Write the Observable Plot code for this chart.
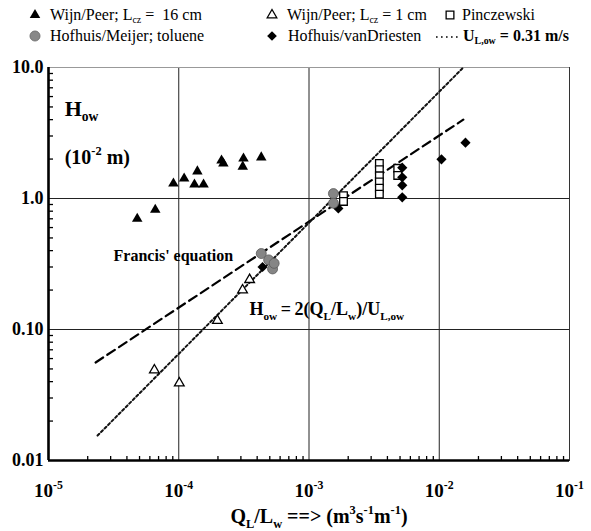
<!DOCTYPE html>
<html><head><meta charset="utf-8">
<script src="https://cdn.jsdelivr.net/npm/d3@7"></script>
<script src="https://cdn.jsdelivr.net/npm/@observablehq/plot@0.6"></script>
<style>
body{margin:0;background:#fff;}
#wrap{width:591px;background:#fff;}
#legend{position:relative;width:591px;height:50px;font-family:"Liberation Serif","Times New Roman","DejaVu Serif",serif;font-size:16px;color:#000;}
.item{position:absolute;white-space:nowrap;line-height:20px;}
.mk{position:absolute;}
#legend sub{font-size:62%;vertical-align:-0.3em;line-height:0;}
#chart svg{display:block;}
</style></head><body>
<div id="wrap"><div id="legend"></div><div id="chart"></div></div>
<script>
// ---- data ----
const wijn16X = [4.8e-5, 6.6e-5, 9.1e-5, 1.1e-4, 1.39e-4, 1.32e-4, 1.55e-4, 2.13e-4, 2.2e-4, 3.14e-4, 3.1e-4, 4.3e-4];
const wijn16Y = [0.70, 0.82, 1.30, 1.42, 1.61, 1.28, 1.28, 1.95, 1.85, 2.02, 1.75, 2.06];

const wijn1X = [6.5e-5, 1.01e-4, 1.98e-4, 3.09e-4, 3.5e-4];
const wijn1Y = [0.049, 0.039, 0.117, 0.20, 0.24];

const pinczX = [1.84e-3, 1.84e-3, 3.47e-3, 3.47e-3, 3.47e-3, 3.47e-3, 3.47e-3, 3.47e-3, 4.8e-3, 4.8e-3];
const pinczY = [1.05, 0.95, 1.85, 1.66, 1.49, 1.34, 1.20, 1.08, 1.70, 1.50];

const meijerX = [4.3e-4, 4.9e-4, 5.25e-4, 5.4e-4, 1.54e-3, 1.54e-3];
const meijerY = [0.38, 0.34, 0.29, 0.32, 1.09, 0.92];

const driestenX = [4.4e-4, 1.68e-3, 5.2e-3, 5.2e-3, 5.2e-3, 5.2e-3, 1.04e-2, 1.59e-2];
const driestenY = [0.30, 0.84, 1.72, 1.45, 1.26, 1.02, 1.99, 2.67];

// Francis' equation (straight line in log-log), end points
const francisX = [2.3e-5, 1.53e-2];
const francisY = [0.056, 4.0];
// H_ow = 2(Q_L/L_w)/U_L,ow with U = 0.31 m/s, end points
const ulowX = [2.38e-5, 1.53e-2];
const ulowY = [0.0155, 10];

// ticks
const xDecades = [1e-5, 1e-4, 1e-3, 1e-2, 1e-1];
const xTickLabels = ["10^{-5}", "10^{-4}", "10^{-3}", "10^{-2}", "10^{-1}"];
const yDecades = [0.01, 0.1, 1, 10];
const yTickLabels = ["0.01", "0.10", "1.0", "10.0"];
const xGrid = [1e-4, 1e-3, 1e-2];
const yGrid = [0.1, 1];
const minorX = [];
[1e-5, 1e-4, 1e-3, 1e-2].forEach(d => { for (let k = 2; k <= 9; k++) minorX.push(k * d); });
const minorY = [];
[0.01, 0.1, 1].forEach(d => { for (let k = 2; k <= 9; k++) minorY.push(k * d); });

const xTitle = "Q_{L}/L_{w} ==> (m^{3}s^{-1}m^{-1})";
const annHow = [{x: 1.33e-5, y: 4.3, t: "H_{ow}"}];
const annUnit = [{x: 1.33e-5, y: 1.85, t: "(10^{-2} m)"}];
const annFrancis = [{x: 3.16e-5, y: 0.336, t: "Francis' equation"}];
const annEq = [{x: 3.49e-4, y: 0.128, t: "H_{ow}\u2009=\u20092(Q_{L}/L_{w})/U_{L,ow}"}];

const zipXY = (xs, ys) => xs.map((x, i) => ({x, y: ys[i]}));
const SERIF = "'Liberation Serif', 'Times New Roman', 'DejaVu Serif', serif";

// ---- legend ----
const legendItems = [
  {sym: "triF", label: "Wijn/Peer; L<sub>cz</sub> = &nbsp;16 cm"},
  {sym: "triO", label: "Wijn/Peer; L<sub>cz</sub> = 1 cm"},
  {sym: "sqO", label: "Pinczewski"},
  {sym: "circ", label: "Hofhuis/Meijer; toluene"},
  {sym: "dia", label: "Hofhuis/vanDriesten"},
  {sym: "dots", label: "<b>U<sub>L,ow</sub> = 0.31 m/s</b>"}
];
const legPos = [[35, 50, 15], [272, 287, 15], [450, 462, 15], [35, 50, 36], [272, 288, 36], [447, 463, 36]];
const leg = document.getElementById("legend");
function symPath(type, size) { return d3.symbol(type, size)(); }
legendItems.forEach((it, i) => {
  const [mx, tx, cy] = legPos[i];
  let svg;
  if (it.sym === "dots") {
    svg = `<svg class="mk" width="24" height="6" style="left:${mx - 12}px;top:${cy - 2}px"><line x1="1" y1="3" x2="23" y2="3" stroke="#000" stroke-width="1.6" stroke-dasharray="1.6,3.4"/></svg>`;
  } else {
    let d, fill = "#000", stroke = "none", sw = 0;
    if (it.sym === "triF") d = symPath(d3.symbolTriangle, 48);
    if (it.sym === "triO") { d = symPath(d3.symbolTriangle, 40); fill = "#fff"; stroke = "#000"; sw = 1.3; }
    if (it.sym === "sqO") { d = symPath(d3.symbolSquare, 60); fill = "#fff"; stroke = "#000"; sw = 1.3; }
    if (it.sym === "circ") { d = symPath(d3.symbolCircle, 80); fill = "#888"; stroke = "#666"; sw = 0.8; }
    if (it.sym === "dia") d = symPath(d3.symbolDiamond2, 60);
    svg = `<svg class="mk" width="16" height="16" style="left:${mx - 8}px;top:${cy - 8}px"><path transform="translate(8,8)" d="${d}" fill="${fill}" stroke="${stroke}" stroke-width="${sw}"/></svg>`;
  }
  leg.insertAdjacentHTML("beforeend", svg + `<span class="item" style="left:${tx}px;top:${cy - 10}px">${it.label}</span>`);
});

// ---- plot ----
const chart = Plot.plot({
  width: 591,
  height: 481,
  marginTop: 17,
  marginBottom: 71,
  marginLeft: 48,
  marginRight: 22,
  x: {type: "log", domain: [1e-5, 1e-1]},
  y: {type: "log", domain: [0.01, 10]},
  style: {fontFamily: SERIF, background: "#fff", color: "#000"},
  marks: [
    Plot.ruleX(xGrid, {stroke: "#222", strokeWidth: 1}),
    Plot.ruleY(yGrid, {stroke: "#222", strokeWidth: 1}),
    Plot.frame({stroke: "#333", strokeWidth: 1}),
    Plot.ruleY([10], {stroke: "#999", strokeWidth: 1}),
    Plot.ruleX(minorX, {insetTop: 389, stroke: "#000", strokeWidth: 1.3}),
    Plot.ruleY(minorY, {insetRight: 516, stroke: "#000", strokeWidth: 1.3}),
    Plot.ruleX([1e-5], {stroke: "#000", strokeWidth: 2.6}),
    Plot.ruleY([0.01], {stroke: "#000", strokeWidth: 2.6}),
    Plot.line(zipXY(francisX, francisY), {x: "x", y: "y", stroke: "#000", strokeWidth: 2.2, strokeDasharray: "9,5"}),
    Plot.line(zipXY(ulowX, ulowY), {x: "x", y: "y", stroke: "#111", strokeWidth: 2, strokeDasharray: "2.5,2.5"}),
    Plot.dot(zipXY(wijn16X, wijn16Y), {x: "x", y: "y", symbol: "triangle", r: 3.9, fill: "#000", stroke: "none"}),
    Plot.dot(zipXY(wijn1X, wijn1Y), {x: "x", y: "y", symbol: "triangle", r: 3.6, fill: "#fff", stroke: "#000", strokeWidth: 1.3}),
    Plot.dot(zipXY(pinczX, pinczY), {x: "x", y: "y", symbol: "square", r: 4.3, fill: "#fff", stroke: "#000", strokeWidth: 1.3}),
    Plot.dot(zipXY(driestenX, driestenY), {x: "x", y: "y", symbol: "diamond2", r: 4.6, fill: "#000", stroke: "none"}),
    Plot.dot(zipXY(meijerX, meijerY), {x: "x", y: "y", symbol: "circle", r: 5, fill: "#858585", stroke: "#5a5a5a", strokeWidth: 0.8}),
    Plot.text(annHow, {x: "x", y: "y", text: "t", textAnchor: "start", lineAnchor: "bottom", fontSize: 22, fontWeight: "bold", fontFamily: SERIF}),
    Plot.text(annUnit, {x: "x", y: "y", text: "t", textAnchor: "start", lineAnchor: "bottom", fontSize: 20, fontWeight: "bold", fontFamily: SERIF}),
    Plot.text(annFrancis, {x: "x", y: "y", text: "t", textAnchor: "start", lineAnchor: "bottom", fontSize: 16, fontWeight: "bold", fontFamily: SERIF}),
    Plot.text(annEq, {x: "x", y: "y", text: "t", textAnchor: "start", lineAnchor: "bottom", fontSize: 18, fontWeight: "bold", fontFamily: SERIF}),
    Plot.axisX({ticks: xDecades, tickFormat: d => xTickLabels[xDecades.indexOf(d)], tickSize: 0, tickPadding: 23, fontSize: 19, fontWeight: "bold", fontFamily: SERIF, label: null}),
    Plot.axisY({ticks: yDecades, tickFormat: d => yTickLabels[yDecades.indexOf(d)], tickSize: 0, tickPadding: 5, fontSize: 18, fontWeight: "bold", fontFamily: SERIF, label: null}),
    Plot.text([xTitle], {text: d => d, frameAnchor: "bottom", dx: 10, dy: 62, lineAnchor: "bottom", fontSize: 20, fontWeight: "bold", fontFamily: SERIF})
  ]
});
document.getElementById("chart").appendChild(chart);

// rich text: _{..} subscripts and ^{..} superscripts
const NS = "http://www.w3.org/2000/svg";
chart.querySelectorAll("text").forEach(t => {
  const s = t.textContent;
  if (!/[_^]\{/.test(s)) return;
  const fs = parseFloat(getComputedStyle(t).fontSize) || 16;
  t.textContent = "";
  const re = /([_^])\{([^}]*)\}|([^_^]+)/g;
  let m, shift = 0;
  while ((m = re.exec(s))) {
    const ts = document.createElementNS(NS, "tspan");
    let target = 0, txt;
    if (m[1]) {
      txt = m[2];
      target = m[1] === "_" ? 0.26 * fs : -0.42 * fs;
      ts.setAttribute("font-size", (0.62 * fs).toFixed(1));
    } else txt = m[3];
    const dy = target - shift;
    if (Math.abs(dy) > 0.01) ts.setAttribute("dy", dy.toFixed(2));
    shift = target;
    ts.textContent = txt;
    t.appendChild(ts);
  }
});
</script>
</body></html>
